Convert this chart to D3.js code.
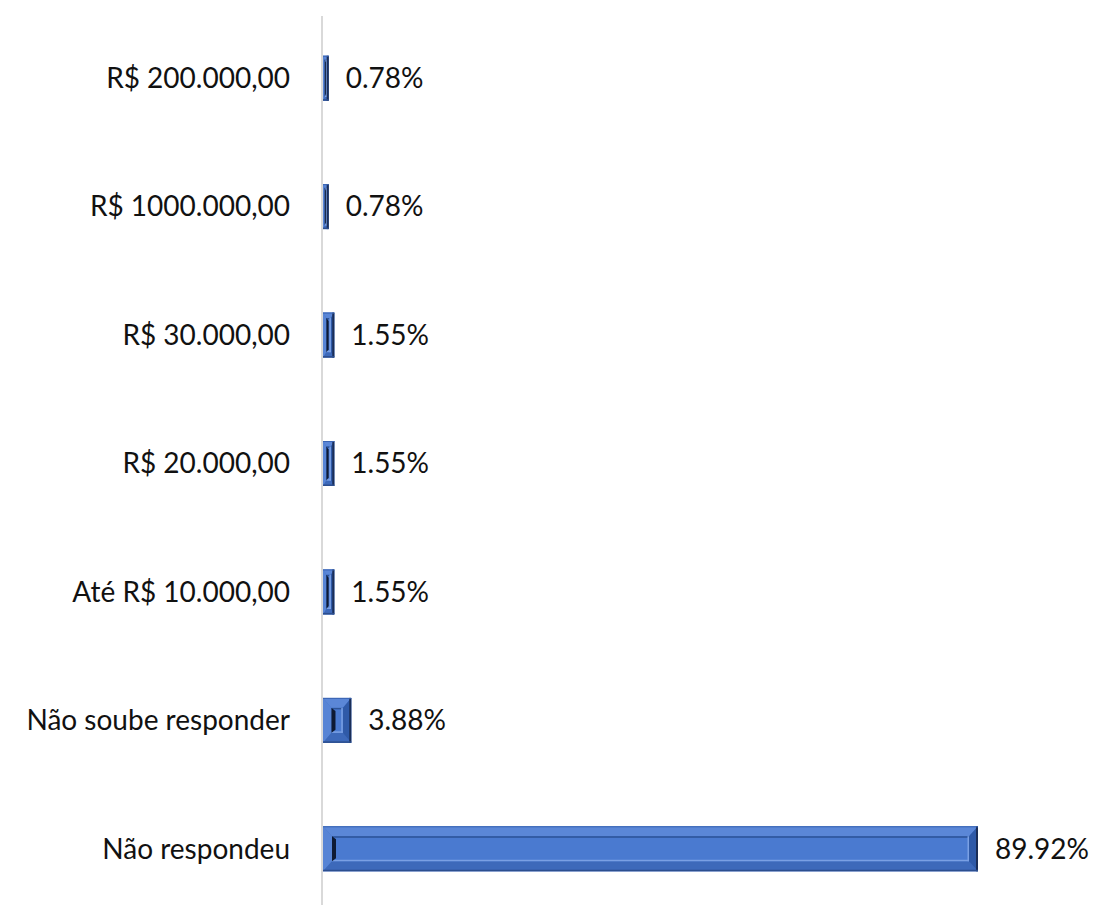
<!DOCTYPE html>
<html>
<head>
<meta charset="utf-8">
<script src="https://cdn.jsdelivr.net/npm/d3@7"></script>
<style>
  body { margin: 0; background: #fff; }
  text { font-family: Lato, "Open Sans", sans-serif; fill: #111; }
</style>
</head>
<body>
<div id="chart"></div>
<script>
// data
var categories = ["R$ 200.000,00", "R$ 1000.000,00", "R$ 30.000,00", "R$ 20.000,00",
                  "Até R$ 10.000,00", "Não soube responder", "Não respondeu"];
var values = [0.78, 0.78, 1.55, 1.55, 1.55, 3.88, 89.92];
var valueLabels = ["0.78%", "0.78%", "1.55%", "1.55%", "1.55%", "3.88%", "89.92%"];

var data = categories.map(function(c, i) {
    return {cat: c, val: values[i], lab: valueLabels[i]};
});

var width = 1093, height = 905;
var x0 = 323;

var svg = d3.select("#chart").append("svg")
    .attr("width", width)
    .attr("height", height);

// set the ranges
var x = d3.scaleLinear()
    .domain([0, 89.92])
    .range([x0, 978]);
var y = d3.scaleBand()
    .domain(categories)
    .range([14, 913])
    .paddingInner(0.65)
    .paddingOuter(0.325);

// vertical axis line
svg.append("line")
    .attr("x1", x0 - 1).attr("x2", x0 - 1)
    .attr("y1", 16).attr("y2", height)
    .attr("stroke", "#d9d9d9")
    .attr("stroke-width", 2);

function pts(a) { return a.map(function(p) { return p.join(","); }).join(" "); }

var bars = svg.selectAll(".bar")
    .data(data)
    .enter().append("g")
    .attr("class", "bar");

bars.each(function(d) {
    var g = d3.select(this);
    var l = x(0), r = x(d.val), t = y(d.cat), b = t + y.bandwidth();
    var w = r - l;
    var ix = Math.min(9, w * 0.3), iy = Math.min(10, w * 0.3 + 2);
    var il = l + ix, ir = r - ix, it = t + iy, ib = b - iy;

    g.append("rect")
        .attr("x", l).attr("y", t).attr("width", w).attr("height", b - t)
        .attr("fill", "#4472c4");
    // bevel frame
    g.append("polygon").attr("points", pts([[l, t], [r, t], [ir, it], [il, it]])).attr("fill", "#5b87d7");
    g.append("polygon").attr("points", pts([[l, t], [il, it], [il, ib], [l, b]])).attr("fill", "#5784d5");
    g.append("polygon").attr("points", pts([[l, b], [il, ib], [ir, ib], [r, b]])).attr("fill", "#3d69ba");
    g.append("polygon").attr("points", pts([[r, t], [r, b], [ir, ib], [ir, it]])).attr("fill", "#2f5aa8");
    // inner face
    if (ir > il) {
        g.append("rect")
            .attr("x", il).attr("y", it).attr("width", ir - il).attr("height", ib - it)
            .attr("fill", "#4a7ad0");
        g.append("line").attr("x1", il).attr("x2", ir).attr("y1", it + 0.75).attr("y2", it + 0.75)
            .attr("stroke", "#2d5397").attr("stroke-width", 1.5);
        g.append("line").attr("x1", il).attr("x2", ir).attr("y1", ib - 0.75).attr("y2", ib - 0.75)
            .attr("stroke", "#7aa0e4").attr("stroke-width", 1.5);
        g.append("line").attr("x1", ir - 0.75).attr("x2", ir - 0.75).attr("y1", it).attr("y2", ib)
            .attr("stroke", "#7aa0e4").attr("stroke-width", 1.5);
        g.append("polygon")
            .attr("points", pts([[il, it], [il + Math.min(4, (ir - il) / 2), it + 3],
                                 [il + Math.min(4, (ir - il) / 2), ib - 3], [il, ib]]))
            .attr("fill", "#0e1a33");
    } else {
        g.append("rect")
            .attr("x", l + w * 0.35).attr("y", t + 2).attr("width", w * 0.45).attr("height", b - t - 4)
            .attr("fill", "#13213f");
    }
    // dark outer right / bottom edge
    g.append("line").attr("x1", r - 1).attr("x2", r - 1).attr("y1", t).attr("y2", b)
        .attr("stroke", "#1b2e57").attr("stroke-width", 2);
    g.append("line").attr("x1", l).attr("x2", r).attr("y1", b - 0.75).attr("y2", b - 0.75)
        .attr("stroke", "#2c4e8e").attr("stroke-width", 1.5);
    g.append("line").attr("x1", l).attr("x2", r).attr("y1", t + 0.5).attr("y2", t + 0.5)
        .attr("stroke", "#3a64b2").attr("stroke-width", 1);
});

// value labels
svg.selectAll(".val")
    .data(data)
    .enter().append("text")
    .attr("class", "val")
    .attr("x", function(d) { return x(d.val) + 17; })
    .attr("y", function(d) { return y(d.cat) + y.bandwidth() / 2; })
    .attr("dy", "0.35em")
    .style("font-size", "28px")
    .text(function(d) { return d.lab; });

// category labels
svg.selectAll(".cat")
    .data(data)
    .enter().append("text")
    .attr("class", "cat")
    .attr("x", 290)
    .attr("y", function(d) { return y(d.cat) + y.bandwidth() / 2; })
    .attr("dy", "0.35em")
    .attr("text-anchor", "end")
    .style("font-size", "28px")
    .text(function(d) { return d.cat; });
</script>
</body>
</html>
